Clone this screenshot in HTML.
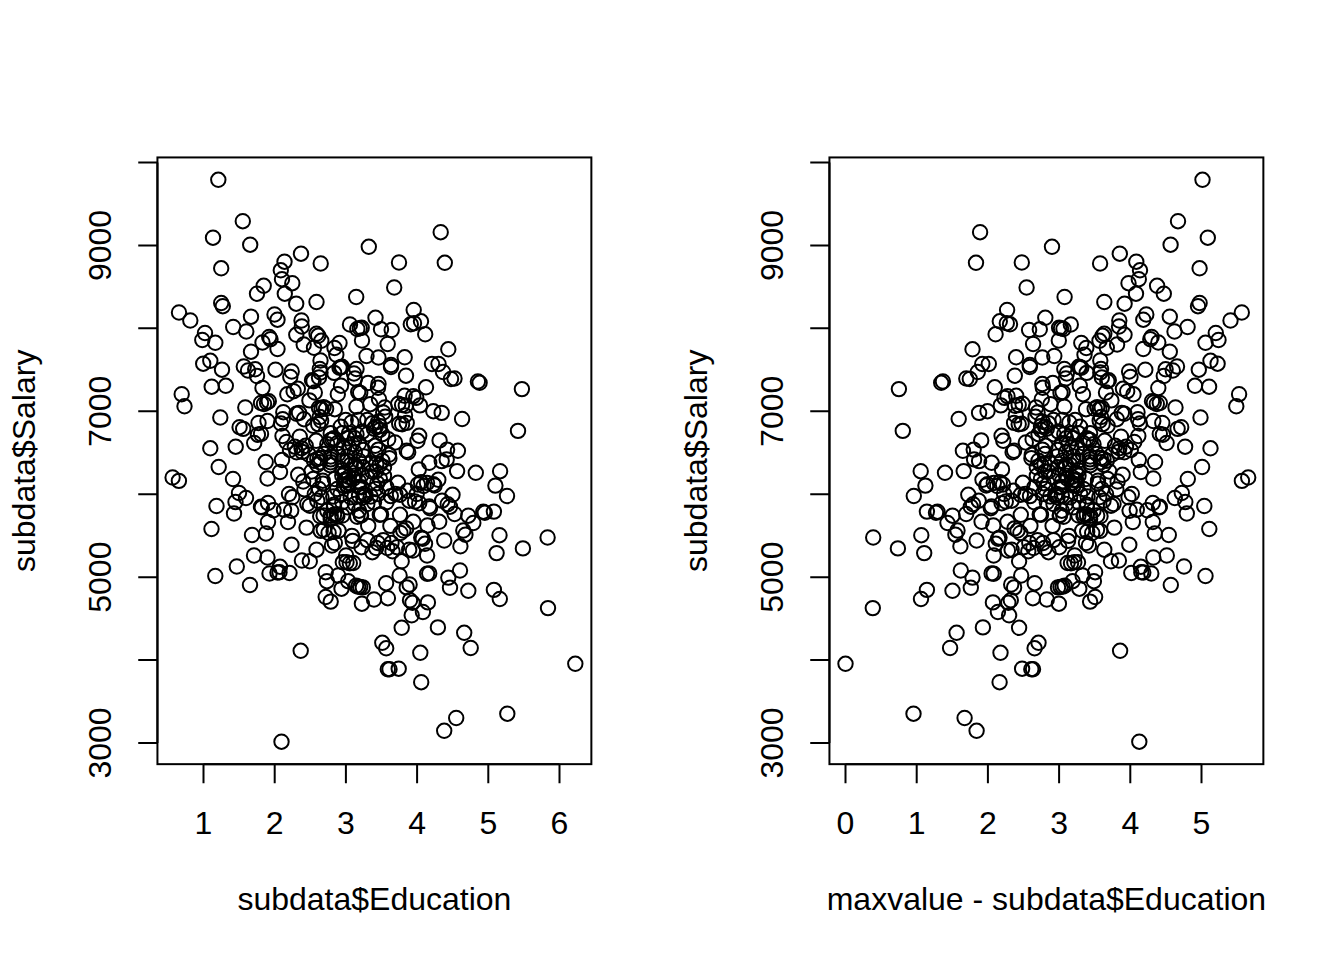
<!DOCTYPE html>
<html><head><meta charset="utf-8"><title>plot</title>
<style>
html,body{margin:0;padding:0;background:#fff;}
svg{display:block;}
text{font-family:"Liberation Sans",sans-serif;font-size:32px;fill:#000;}
</style></head><body>
<svg width="1344" height="960" viewBox="0 0 1344 960">
<rect width="1344" height="960" fill="#fff"/>
<rect x="157.44" y="157.44" width="433.92" height="606.72" fill="none" stroke="#000" stroke-width="2"/>
<path d="M203.50 764.16H559.50M203.50 764.16v19.2M274.70 764.16v19.2M345.90 764.16v19.2M417.10 764.16v19.2M488.30 764.16v19.2M559.50 764.16v19.2" stroke="#000" stroke-width="2" fill="none"/>
<text x="203.50" y="833.7" text-anchor="middle">1</text>
<text x="274.70" y="833.7" text-anchor="middle">2</text>
<text x="345.90" y="833.7" text-anchor="middle">3</text>
<text x="417.10" y="833.7" text-anchor="middle">4</text>
<text x="488.30" y="833.7" text-anchor="middle">5</text>
<text x="559.50" y="833.7" text-anchor="middle">6</text>
<path d="M157.44 162.50V743.01M157.44 162.50h-19.2M157.44 245.43h-19.2M157.44 328.36h-19.2M157.44 411.29h-19.2M157.44 494.22h-19.2M157.44 577.15h-19.2M157.44 660.08h-19.2M157.44 743.01h-19.2" stroke="#000" stroke-width="2" fill="none"/>
<text transform="translate(111.44 245.43) rotate(-90)" text-anchor="middle">9000</text>
<text transform="translate(111.44 411.29) rotate(-90)" text-anchor="middle">7000</text>
<text transform="translate(111.44 577.15) rotate(-90)" text-anchor="middle">5000</text>
<text transform="translate(111.44 743.01) rotate(-90)" text-anchor="middle">3000</text>
<text x="374.40" y="910" text-anchor="middle">subdata$Education</text>
<text transform="translate(35.04 460.80) rotate(-90)" text-anchor="middle">subdata$Salary</text>
<g fill="none" stroke="#000" stroke-width="2"><circle cx="218.3" cy="179.8" r="7.2"/><circle cx="242.8" cy="221.2" r="7.2"/><circle cx="213.0" cy="237.7" r="7.2"/><circle cx="250.2" cy="244.7" r="7.2"/><circle cx="301.0" cy="253.7" r="7.2"/><circle cx="368.8" cy="246.8" r="7.2"/><circle cx="284.5" cy="261.7" r="7.2"/><circle cx="320.7" cy="263.5" r="7.2"/><circle cx="221.2" cy="268.3" r="7.2"/><circle cx="280.8" cy="270.3" r="7.2"/><circle cx="282.0" cy="279.2" r="7.2"/><circle cx="292.3" cy="283.2" r="7.2"/><circle cx="263.7" cy="285.8" r="7.2"/><circle cx="257.0" cy="293.7" r="7.2"/><circle cx="284.8" cy="293.7" r="7.2"/><circle cx="296.2" cy="303.7" r="7.2"/><circle cx="316.5" cy="302.0" r="7.2"/><circle cx="356.2" cy="297.0" r="7.2"/><circle cx="221.2" cy="303.0" r="7.2"/><circle cx="222.8" cy="306.2" r="7.2"/><circle cx="179.0" cy="312.5" r="7.2"/><circle cx="190.3" cy="320.5" r="7.2"/><circle cx="205.0" cy="333.0" r="7.2"/><circle cx="202.3" cy="340.0" r="7.2"/><circle cx="215.3" cy="342.8" r="7.2"/><circle cx="233.2" cy="327.0" r="7.2"/><circle cx="203.2" cy="363.7" r="7.2"/><circle cx="210.3" cy="360.8" r="7.2"/><circle cx="222.0" cy="369.7" r="7.2"/><circle cx="211.7" cy="386.7" r="7.2"/><circle cx="225.8" cy="385.8" r="7.2"/><circle cx="181.7" cy="394.2" r="7.2"/><circle cx="184.5" cy="406.3" r="7.2"/><circle cx="220.3" cy="417.5" r="7.2"/><circle cx="210.3" cy="448.3" r="7.2"/><circle cx="235.7" cy="446.7" r="7.2"/><circle cx="251.0" cy="316.7" r="7.2"/><circle cx="246.3" cy="331.5" r="7.2"/><circle cx="274.5" cy="314.5" r="7.2"/><circle cx="277.5" cy="319.7" r="7.2"/><circle cx="301.5" cy="320.5" r="7.2"/><circle cx="301.8" cy="326.5" r="7.2"/><circle cx="296.3" cy="334.8" r="7.2"/><circle cx="303.7" cy="344.5" r="7.2"/><circle cx="316.5" cy="333.8" r="7.2"/><circle cx="318.2" cy="335.8" r="7.2"/><circle cx="321.3" cy="340.8" r="7.2"/><circle cx="314.0" cy="347.8" r="7.2"/><circle cx="339.5" cy="343.0" r="7.2"/><circle cx="334.5" cy="348.0" r="7.2"/><circle cx="336.3" cy="354.8" r="7.2"/><circle cx="269.2" cy="337.0" r="7.2"/><circle cx="270.5" cy="339.2" r="7.2"/><circle cx="262.5" cy="342.5" r="7.2"/><circle cx="277.5" cy="349.0" r="7.2"/><circle cx="251.0" cy="351.7" r="7.2"/><circle cx="350.0" cy="324.5" r="7.2"/><circle cx="320.5" cy="360.5" r="7.2"/><circle cx="319.8" cy="369.0" r="7.2"/><circle cx="320.5" cy="372.5" r="7.2"/><circle cx="319.0" cy="377.5" r="7.2"/><circle cx="312.0" cy="380.3" r="7.2"/><circle cx="313.5" cy="381.2" r="7.2"/><circle cx="341.0" cy="367.3" r="7.2"/><circle cx="339.5" cy="367.8" r="7.2"/><circle cx="342.0" cy="366.8" r="7.2"/><circle cx="334.1" cy="372.9" r="7.2"/><circle cx="341.0" cy="385.7" r="7.2"/><circle cx="243.8" cy="366.5" r="7.2"/><circle cx="248.0" cy="370.5" r="7.2"/><circle cx="255.2" cy="369.3" r="7.2"/><circle cx="257.0" cy="376.0" r="7.2"/><circle cx="275.5" cy="369.7" r="7.2"/><circle cx="291.7" cy="371.5" r="7.2"/><circle cx="290.3" cy="377.0" r="7.2"/><circle cx="262.5" cy="388.0" r="7.2"/><circle cx="375.5" cy="317.8" r="7.2"/><circle cx="357.3" cy="329.0" r="7.2"/><circle cx="359.8" cy="328.3" r="7.2"/><circle cx="361.7" cy="327.8" r="7.2"/><circle cx="362.0" cy="340.5" r="7.2"/><circle cx="381.0" cy="329.3" r="7.2"/><circle cx="391.7" cy="330.0" r="7.2"/><circle cx="387.7" cy="344.0" r="7.2"/><circle cx="413.7" cy="310.0" r="7.2"/><circle cx="410.8" cy="324.3" r="7.2"/><circle cx="414.0" cy="323.2" r="7.2"/><circle cx="421.0" cy="321.3" r="7.2"/><circle cx="425.2" cy="334.3" r="7.2"/><circle cx="448.3" cy="349.3" r="7.2"/><circle cx="366.5" cy="356.0" r="7.2"/><circle cx="378.5" cy="357.5" r="7.2"/><circle cx="404.7" cy="357.3" r="7.2"/><circle cx="391.0" cy="365.0" r="7.2"/><circle cx="391.0" cy="367.0" r="7.2"/><circle cx="406.0" cy="375.7" r="7.2"/><circle cx="432.0" cy="364.0" r="7.2"/><circle cx="438.5" cy="364.0" r="7.2"/><circle cx="443.0" cy="372.0" r="7.2"/><circle cx="451.0" cy="379.0" r="7.2"/><circle cx="454.5" cy="378.5" r="7.2"/><circle cx="426.0" cy="387.3" r="7.2"/><circle cx="356.5" cy="369.0" r="7.2"/><circle cx="354.0" cy="373.5" r="7.2"/><circle cx="355.0" cy="378.5" r="7.2"/><circle cx="368.0" cy="383.0" r="7.2"/><circle cx="378.5" cy="384.0" r="7.2"/><circle cx="378.0" cy="387.8" r="7.2"/><circle cx="245.3" cy="407.5" r="7.2"/><circle cx="261.0" cy="403.0" r="7.2"/><circle cx="264.0" cy="404.0" r="7.2"/><circle cx="267.0" cy="402.5" r="7.2"/><circle cx="268.8" cy="401.2" r="7.2"/><circle cx="287.3" cy="394.3" r="7.2"/><circle cx="283.3" cy="412.2" r="7.2"/><circle cx="282.7" cy="419.2" r="7.2"/><circle cx="281.0" cy="423.5" r="7.2"/><circle cx="267.5" cy="421.0" r="7.2"/><circle cx="258.5" cy="423.0" r="7.2"/><circle cx="239.6" cy="427.2" r="7.2"/><circle cx="243.2" cy="428.9" r="7.2"/><circle cx="257.9" cy="434.7" r="7.2"/><circle cx="261.0" cy="434.0" r="7.2"/><circle cx="254.2" cy="443.0" r="7.2"/><circle cx="282.5" cy="436.0" r="7.2"/><circle cx="286.5" cy="442.0" r="7.2"/><circle cx="265.7" cy="462.0" r="7.2"/><circle cx="282.0" cy="460.0" r="7.2"/><circle cx="290.0" cy="450.0" r="7.2"/><circle cx="293.6" cy="391.2" r="7.2"/><circle cx="297.8" cy="388.8" r="7.2"/><circle cx="314.8" cy="392.5" r="7.2"/><circle cx="309.4" cy="400.4" r="7.2"/><circle cx="337.8" cy="394.2" r="7.2"/><circle cx="319.0" cy="407.9" r="7.2"/><circle cx="321.5" cy="409.2" r="7.2"/><circle cx="323.6" cy="407.1" r="7.2"/><circle cx="326.1" cy="408.8" r="7.2"/><circle cx="334.8" cy="409.2" r="7.2"/><circle cx="356.5" cy="406.7" r="7.2"/><circle cx="358.2" cy="392.1" r="7.2"/><circle cx="360.2" cy="392.9" r="7.2"/><circle cx="370.2" cy="404.2" r="7.2"/><circle cx="379.0" cy="399.2" r="7.2"/><circle cx="296.5" cy="413.8" r="7.2"/><circle cx="299.0" cy="412.9" r="7.2"/><circle cx="304.0" cy="419.2" r="7.2"/><circle cx="321.1" cy="420.8" r="7.2"/><circle cx="318.2" cy="424.2" r="7.2"/><circle cx="313.2" cy="425.8" r="7.2"/><circle cx="345.7" cy="420.0" r="7.2"/><circle cx="351.5" cy="422.5" r="7.2"/><circle cx="340.7" cy="426.7" r="7.2"/><circle cx="358.2" cy="420.0" r="7.2"/><circle cx="367.3" cy="420.0" r="7.2"/><circle cx="372.3" cy="423.3" r="7.2"/><circle cx="375.7" cy="426.7" r="7.2"/><circle cx="378.2" cy="421.7" r="7.2"/><circle cx="384.8" cy="407.5" r="7.2"/><circle cx="383.2" cy="412.5" r="7.2"/><circle cx="385.2" cy="416.7" r="7.2"/><circle cx="299.8" cy="436.7" r="7.2"/><circle cx="316.1" cy="440.8" r="7.2"/><circle cx="330.7" cy="433.3" r="7.2"/><circle cx="334.0" cy="438.3" r="7.2"/><circle cx="327.3" cy="444.2" r="7.2"/><circle cx="342.3" cy="433.3" r="7.2"/><circle cx="347.3" cy="438.3" r="7.2"/><circle cx="352.3" cy="444.2" r="7.2"/><circle cx="356.5" cy="434.2" r="7.2"/><circle cx="362.3" cy="431.7" r="7.2"/><circle cx="367.3" cy="434.2" r="7.2"/><circle cx="375.2" cy="445.8" r="7.2"/><circle cx="382.3" cy="434.2" r="7.2"/><circle cx="388.2" cy="439.2" r="7.2"/><circle cx="294.8" cy="446.7" r="7.2"/><circle cx="301.5" cy="448.3" r="7.2"/><circle cx="404.6" cy="395.8" r="7.2"/><circle cx="413.3" cy="396.2" r="7.2"/><circle cx="416.2" cy="397.9" r="7.2"/><circle cx="420.0" cy="405.4" r="7.2"/><circle cx="398.3" cy="403.8" r="7.2"/><circle cx="402.1" cy="405.0" r="7.2"/><circle cx="405.8" cy="405.8" r="7.2"/><circle cx="433.3" cy="411.2" r="7.2"/><circle cx="441.7" cy="412.9" r="7.2"/><circle cx="462.1" cy="419.0" r="7.2"/><circle cx="399.2" cy="423.8" r="7.2"/><circle cx="402.1" cy="424.2" r="7.2"/><circle cx="406.7" cy="422.9" r="7.2"/><circle cx="405.0" cy="415.4" r="7.2"/><circle cx="419.2" cy="435.8" r="7.2"/><circle cx="417.5" cy="440.8" r="7.2"/><circle cx="439.6" cy="440.4" r="7.2"/><circle cx="447.1" cy="449.6" r="7.2"/><circle cx="457.9" cy="450.8" r="7.2"/><circle cx="395.0" cy="442.5" r="7.2"/><circle cx="406.7" cy="450.8" r="7.2"/><circle cx="296.5" cy="452.3" r="7.2"/><circle cx="302.3" cy="451.9" r="7.2"/><circle cx="309.0" cy="454.8" r="7.2"/><circle cx="314.0" cy="460.7" r="7.2"/><circle cx="317.3" cy="459.0" r="7.2"/><circle cx="319.8" cy="462.3" r="7.2"/><circle cx="317.3" cy="464.8" r="7.2"/><circle cx="324.0" cy="454.0" r="7.2"/><circle cx="330.7" cy="456.5" r="7.2"/><circle cx="330.7" cy="459.4" r="7.2"/><circle cx="330.7" cy="462.3" r="7.2"/><circle cx="330.2" cy="465.2" r="7.2"/><circle cx="338.2" cy="454.0" r="7.2"/><circle cx="342.3" cy="460.7" r="7.2"/><circle cx="347.3" cy="456.5" r="7.2"/><circle cx="350.7" cy="464.8" r="7.2"/><circle cx="354.8" cy="452.3" r="7.2"/><circle cx="359.0" cy="460.7" r="7.2"/><circle cx="364.0" cy="456.5" r="7.2"/><circle cx="370.7" cy="463.2" r="7.2"/><circle cx="375.7" cy="454.0" r="7.2"/><circle cx="382.3" cy="460.7" r="7.2"/><circle cx="389.0" cy="454.8" r="7.2"/><circle cx="389.4" cy="458.2" r="7.2"/><circle cx="384.0" cy="467.3" r="7.2"/><circle cx="298.2" cy="474.8" r="7.2"/><circle cx="303.2" cy="481.5" r="7.2"/><circle cx="304.4" cy="489.4" r="7.2"/><circle cx="311.5" cy="471.5" r="7.2"/><circle cx="313.2" cy="479.0" r="7.2"/><circle cx="322.8" cy="480.7" r="7.2"/><circle cx="323.0" cy="483.6" r="7.2"/><circle cx="319.0" cy="489.0" r="7.2"/><circle cx="334.8" cy="479.0" r="7.2"/><circle cx="342.3" cy="475.7" r="7.2"/><circle cx="345.7" cy="480.7" r="7.2"/><circle cx="349.0" cy="483.2" r="7.2"/><circle cx="344.0" cy="485.7" r="7.2"/><circle cx="337.3" cy="489.0" r="7.2"/><circle cx="354.8" cy="475.7" r="7.2"/><circle cx="359.0" cy="481.5" r="7.2"/><circle cx="361.5" cy="487.3" r="7.2"/><circle cx="367.3" cy="477.3" r="7.2"/><circle cx="372.3" cy="471.5" r="7.2"/><circle cx="377.3" cy="483.2" r="7.2"/><circle cx="379.8" cy="479.0" r="7.2"/><circle cx="375.7" cy="489.0" r="7.2"/><circle cx="384.0" cy="475.7" r="7.2"/><circle cx="386.5" cy="487.3" r="7.2"/><circle cx="307.3" cy="504.0" r="7.2"/><circle cx="309.8" cy="505.7" r="7.2"/><circle cx="314.8" cy="494.0" r="7.2"/><circle cx="317.3" cy="500.7" r="7.2"/><circle cx="321.5" cy="497.3" r="7.2"/><circle cx="333.2" cy="496.5" r="7.2"/><circle cx="334.0" cy="504.8" r="7.2"/><circle cx="334.0" cy="506.5" r="7.2"/><circle cx="327.3" cy="510.7" r="7.2"/><circle cx="340.7" cy="494.0" r="7.2"/><circle cx="342.3" cy="502.3" r="7.2"/><circle cx="347.3" cy="507.3" r="7.2"/><circle cx="350.7" cy="497.3" r="7.2"/><circle cx="354.8" cy="504.0" r="7.2"/><circle cx="359.0" cy="510.7" r="7.2"/><circle cx="360.7" cy="514.8" r="7.2"/><circle cx="364.0" cy="494.0" r="7.2"/><circle cx="370.7" cy="496.5" r="7.2"/><circle cx="367.3" cy="504.0" r="7.2"/><circle cx="374.0" cy="502.3" r="7.2"/><circle cx="379.8" cy="514.8" r="7.2"/><circle cx="381.1" cy="514.4" r="7.2"/><circle cx="378.2" cy="494.0" r="7.2"/><circle cx="386.5" cy="502.3" r="7.2"/><circle cx="446.7" cy="459.4" r="7.2"/><circle cx="441.7" cy="461.1" r="7.2"/><circle cx="429.2" cy="462.8" r="7.2"/><circle cx="418.8" cy="469.4" r="7.2"/><circle cx="457.1" cy="471.1" r="7.2"/><circle cx="475.8" cy="472.8" r="7.2"/><circle cx="438.3" cy="479.8" r="7.2"/><circle cx="417.8" cy="484.5" r="7.2"/><circle cx="421.0" cy="482.3" r="7.2"/><circle cx="423.6" cy="486.0" r="7.2"/><circle cx="427.0" cy="483.0" r="7.2"/><circle cx="433.3" cy="484.2" r="7.2"/><circle cx="434.6" cy="485.5" r="7.2"/><circle cx="397.9" cy="482.8" r="7.2"/><circle cx="407.5" cy="490.7" r="7.2"/><circle cx="452.5" cy="494.8" r="7.2"/><circle cx="442.1" cy="500.7" r="7.2"/><circle cx="450.0" cy="506.7" r="7.2"/><circle cx="447.7" cy="504.2" r="7.2"/><circle cx="454.6" cy="514.0" r="7.2"/><circle cx="429.2" cy="506.5" r="7.2"/><circle cx="430.0" cy="508.2" r="7.2"/><circle cx="409.2" cy="500.7" r="7.2"/><circle cx="415.0" cy="501.5" r="7.2"/><circle cx="419.2" cy="503.2" r="7.2"/><circle cx="416.7" cy="494.0" r="7.2"/><circle cx="390.8" cy="496.1" r="7.2"/><circle cx="395.4" cy="494.0" r="7.2"/><circle cx="400.0" cy="494.8" r="7.2"/><circle cx="400.0" cy="514.8" r="7.2"/><circle cx="468.3" cy="515.7" r="7.2"/><circle cx="483.3" cy="511.7" r="7.2"/><circle cx="408.2" cy="452.2" r="7.2"/><circle cx="306.5" cy="527.6" r="7.2"/><circle cx="291.5" cy="544.7" r="7.2"/><circle cx="316.5" cy="549.7" r="7.2"/><circle cx="301.9" cy="560.5" r="7.2"/><circle cx="309.8" cy="561.3" r="7.2"/><circle cx="325.7" cy="572.2" r="7.2"/><circle cx="338.2" cy="575.5" r="7.2"/><circle cx="346.1" cy="555.5" r="7.2"/><circle cx="342.8" cy="562.3" r="7.2"/><circle cx="346.5" cy="562.2" r="7.2"/><circle cx="349.8" cy="563.2" r="7.2"/><circle cx="353.2" cy="563.0" r="7.2"/><circle cx="351.9" cy="535.9" r="7.2"/><circle cx="352.8" cy="540.9" r="7.2"/><circle cx="361.5" cy="547.2" r="7.2"/><circle cx="368.2" cy="525.9" r="7.2"/><circle cx="367.3" cy="540.1" r="7.2"/><circle cx="372.3" cy="552.2" r="7.2"/><circle cx="376.1" cy="548.0" r="7.2"/><circle cx="377.8" cy="543.0" r="7.2"/><circle cx="383.2" cy="540.1" r="7.2"/><circle cx="387.3" cy="548.0" r="7.2"/><circle cx="391.5" cy="543.0" r="7.2"/><circle cx="320.2" cy="516.3" r="7.2"/><circle cx="323.6" cy="515.5" r="7.2"/><circle cx="330.7" cy="515.9" r="7.2"/><circle cx="337.3" cy="516.3" r="7.2"/><circle cx="342.3" cy="515.5" r="7.2"/><circle cx="357.3" cy="516.8" r="7.2"/><circle cx="361.1" cy="515.5" r="7.2"/><circle cx="320.7" cy="530.9" r="7.2"/><circle cx="323.8" cy="529.8" r="7.2"/><circle cx="328.6" cy="533.0" r="7.2"/><circle cx="333.6" cy="531.8" r="7.2"/><circle cx="338.6" cy="530.7" r="7.2"/><circle cx="331.9" cy="545.5" r="7.2"/><circle cx="334.8" cy="543.0" r="7.2"/><circle cx="413.3" cy="521.8" r="7.2"/><circle cx="390.4" cy="525.9" r="7.2"/><circle cx="427.5" cy="525.5" r="7.2"/><circle cx="439.2" cy="521.8" r="7.2"/><circle cx="473.3" cy="523.0" r="7.2"/><circle cx="463.3" cy="530.5" r="7.2"/><circle cx="465.4" cy="534.7" r="7.2"/><circle cx="460.4" cy="546.3" r="7.2"/><circle cx="444.2" cy="540.5" r="7.2"/><circle cx="400.4" cy="533.0" r="7.2"/><circle cx="403.3" cy="530.5" r="7.2"/><circle cx="406.2" cy="528.4" r="7.2"/><circle cx="421.2" cy="537.6" r="7.2"/><circle cx="422.7" cy="538.7" r="7.2"/><circle cx="425.0" cy="543.8" r="7.2"/><circle cx="427.1" cy="555.5" r="7.2"/><circle cx="412.9" cy="550.5" r="7.2"/><circle cx="409.2" cy="549.7" r="7.2"/><circle cx="397.1" cy="547.2" r="7.2"/><circle cx="392.5" cy="551.3" r="7.2"/><circle cx="401.7" cy="561.3" r="7.2"/><circle cx="399.6" cy="575.5" r="7.2"/><circle cx="427.1" cy="573.8" r="7.2"/><circle cx="429.2" cy="573.4" r="7.2"/><circle cx="460.0" cy="570.5" r="7.2"/><circle cx="448.3" cy="577.6" r="7.2"/><circle cx="326.9" cy="581.2" r="7.2"/><circle cx="341.5" cy="588.7" r="7.2"/><circle cx="348.2" cy="581.2" r="7.2"/><circle cx="356.1" cy="585.8" r="7.2"/><circle cx="358.2" cy="586.6" r="7.2"/><circle cx="360.2" cy="587.0" r="7.2"/><circle cx="362.8" cy="587.4" r="7.2"/><circle cx="325.7" cy="597.0" r="7.2"/><circle cx="330.7" cy="601.6" r="7.2"/><circle cx="361.9" cy="603.7" r="7.2"/><circle cx="374.0" cy="599.5" r="7.2"/><circle cx="386.1" cy="583.2" r="7.2"/><circle cx="382.3" cy="642.8" r="7.2"/><circle cx="409.6" cy="584.5" r="7.2"/><circle cx="406.7" cy="587.4" r="7.2"/><circle cx="387.9" cy="598.2" r="7.2"/><circle cx="410.0" cy="600.3" r="7.2"/><circle cx="412.5" cy="602.8" r="7.2"/><circle cx="427.9" cy="602.4" r="7.2"/><circle cx="422.9" cy="612.0" r="7.2"/><circle cx="411.7" cy="615.3" r="7.2"/><circle cx="450.0" cy="587.8" r="7.2"/><circle cx="468.3" cy="590.8" r="7.2"/><circle cx="401.7" cy="627.8" r="7.2"/><circle cx="437.9" cy="627.4" r="7.2"/><circle cx="464.2" cy="632.8" r="7.2"/><circle cx="218.7" cy="467.0" r="7.2"/><circle cx="233.0" cy="479.0" r="7.2"/><circle cx="216.5" cy="506.0" r="7.2"/><circle cx="211.5" cy="529.0" r="7.2"/><circle cx="239.0" cy="493.0" r="7.2"/><circle cx="246.0" cy="498.0" r="7.2"/><circle cx="235.5" cy="502.0" r="7.2"/><circle cx="234.0" cy="513.5" r="7.2"/><circle cx="267.5" cy="478.5" r="7.2"/><circle cx="280.0" cy="472.0" r="7.2"/><circle cx="261.0" cy="506.8" r="7.2"/><circle cx="261.8" cy="507.4" r="7.2"/><circle cx="268.0" cy="503.0" r="7.2"/><circle cx="273.5" cy="510.3" r="7.2"/><circle cx="284.0" cy="509.7" r="7.2"/><circle cx="291.2" cy="510.7" r="7.2"/><circle cx="268.0" cy="522.0" r="7.2"/><circle cx="288.0" cy="522.0" r="7.2"/><circle cx="266.0" cy="533.5" r="7.2"/><circle cx="252.0" cy="535.0" r="7.2"/><circle cx="289.0" cy="494.0" r="7.2"/><circle cx="292.3" cy="497.3" r="7.2"/><circle cx="254.0" cy="555.5" r="7.2"/><circle cx="267.5" cy="557.5" r="7.2"/><circle cx="236.8" cy="566.5" r="7.2"/><circle cx="215.3" cy="576.0" r="7.2"/><circle cx="250.0" cy="585.0" r="7.2"/><circle cx="269.5" cy="573.5" r="7.2"/><circle cx="280.0" cy="566.8" r="7.2"/><circle cx="277.5" cy="572.5" r="7.2"/><circle cx="279.5" cy="572.2" r="7.2"/><circle cx="289.5" cy="573.0" r="7.2"/><circle cx="440.7" cy="232.2" r="7.2"/><circle cx="399.0" cy="262.5" r="7.2"/><circle cx="444.8" cy="262.8" r="7.2"/><circle cx="394.2" cy="287.5" r="7.2"/><circle cx="477.9" cy="381.5" r="7.2"/><circle cx="479.6" cy="382.8" r="7.2"/><circle cx="521.9" cy="389.1" r="7.2"/><circle cx="518.0" cy="430.9" r="7.2"/><circle cx="500.1" cy="471.2" r="7.2"/><circle cx="495.4" cy="485.6" r="7.2"/><circle cx="507.0" cy="496.0" r="7.2"/><circle cx="493.9" cy="511.6" r="7.2"/><circle cx="484.8" cy="512.8" r="7.2"/><circle cx="499.5" cy="535.2" r="7.2"/><circle cx="547.6" cy="537.5" r="7.2"/><circle cx="522.9" cy="548.4" r="7.2"/><circle cx="496.6" cy="553.1" r="7.2"/><circle cx="493.9" cy="589.9" r="7.2"/><circle cx="499.8" cy="599.0" r="7.2"/><circle cx="548.0" cy="608.1" r="7.2"/><circle cx="470.7" cy="648.0" r="7.2"/><circle cx="386.2" cy="648.3" r="7.2"/><circle cx="420.3" cy="652.8" r="7.2"/><circle cx="387.8" cy="669.2" r="7.2"/><circle cx="389.5" cy="669.2" r="7.2"/><circle cx="398.7" cy="668.7" r="7.2"/><circle cx="421.2" cy="682.2" r="7.2"/><circle cx="575.3" cy="663.8" r="7.2"/><circle cx="456.2" cy="718.0" r="7.2"/><circle cx="444.2" cy="730.8" r="7.2"/><circle cx="507.3" cy="713.7" r="7.2"/><circle cx="300.7" cy="650.8" r="7.2"/><circle cx="281.5" cy="741.7" r="7.2"/><circle cx="172.6" cy="477.5" r="7.2"/><circle cx="178.9" cy="480.9" r="7.2"/><circle cx="330.7" cy="440.0" r="7.2"/><circle cx="337.3" cy="443.3" r="7.2"/><circle cx="349.0" cy="433.3" r="7.2"/><circle cx="354.8" cy="438.3" r="7.2"/><circle cx="359.0" cy="443.3" r="7.2"/><circle cx="363.2" cy="450.0" r="7.2"/><circle cx="344.0" cy="448.3" r="7.2"/><circle cx="379.8" cy="430.0" r="7.2"/><circle cx="305.7" cy="445.8" r="7.2"/><circle cx="347.3" cy="460.7" r="7.2"/><circle cx="354.8" cy="464.8" r="7.2"/><circle cx="363.2" cy="467.3" r="7.2"/><circle cx="344.8" cy="479.8" r="7.2"/><circle cx="347.3" cy="485.7" r="7.2"/><circle cx="359.0" cy="495.7" r="7.2"/><circle cx="363.2" cy="497.3" r="7.2"/><circle cx="375.7" cy="471.5" r="7.2"/><circle cx="379.8" cy="464.8" r="7.2"/><circle cx="334.0" cy="514.8" r="7.2"/><circle cx="330.7" cy="519.0" r="7.2"/><circle cx="320.0" cy="458.0" r="7.2"/><circle cx="332.5" cy="439.2" r="7.2"/><circle cx="349.2" cy="447.5" r="7.2"/><circle cx="378.3" cy="449.6" r="7.2"/><circle cx="345.0" cy="472.5" r="7.2"/><circle cx="353.3" cy="478.8" r="7.2"/><circle cx="376.2" cy="464.2" r="7.2"/><circle cx="365.8" cy="495.4" r="7.2"/><circle cx="336.7" cy="514.2" r="7.2"/><circle cx="319.8" cy="417.0" r="7.2"/><circle cx="374.0" cy="428.7" r="7.2"/><circle cx="379.8" cy="426.2" r="7.2"/><circle cx="342.3" cy="470.3" r="7.2"/><circle cx="349.0" cy="477.0" r="7.2"/><circle cx="355.7" cy="468.7" r="7.2"/><circle cx="361.5" cy="475.3" r="7.2"/><circle cx="347.3" cy="485.3" r="7.2"/><circle cx="359.0" cy="487.0" r="7.2"/></g>
<rect x="829.44" y="157.44" width="433.92" height="606.72" fill="none" stroke="#000" stroke-width="2"/>
<path d="M845.50 764.16H1201.50M845.50 764.16v19.2M916.70 764.16v19.2M987.90 764.16v19.2M1059.10 764.16v19.2M1130.30 764.16v19.2M1201.50 764.16v19.2" stroke="#000" stroke-width="2" fill="none"/>
<text x="845.50" y="833.7" text-anchor="middle">0</text>
<text x="916.70" y="833.7" text-anchor="middle">1</text>
<text x="987.90" y="833.7" text-anchor="middle">2</text>
<text x="1059.10" y="833.7" text-anchor="middle">3</text>
<text x="1130.30" y="833.7" text-anchor="middle">4</text>
<text x="1201.50" y="833.7" text-anchor="middle">5</text>
<path d="M829.44 162.50V743.01M829.44 162.50h-19.2M829.44 245.43h-19.2M829.44 328.36h-19.2M829.44 411.29h-19.2M829.44 494.22h-19.2M829.44 577.15h-19.2M829.44 660.08h-19.2M829.44 743.01h-19.2" stroke="#000" stroke-width="2" fill="none"/>
<text transform="translate(783.44 245.43) rotate(-90)" text-anchor="middle">9000</text>
<text transform="translate(783.44 411.29) rotate(-90)" text-anchor="middle">7000</text>
<text transform="translate(783.44 577.15) rotate(-90)" text-anchor="middle">5000</text>
<text transform="translate(783.44 743.01) rotate(-90)" text-anchor="middle">3000</text>
<text x="1046.40" y="910" text-anchor="middle">maxvalue - subdata$Education</text>
<text transform="translate(707.04 460.80) rotate(-90)" text-anchor="middle">subdata$Salary</text>
<g fill="none" stroke="#000" stroke-width="2"><circle cx="1202.5" cy="179.8" r="7.2"/><circle cx="1178.0" cy="221.2" r="7.2"/><circle cx="1207.8" cy="237.7" r="7.2"/><circle cx="1170.6" cy="244.7" r="7.2"/><circle cx="1119.8" cy="253.7" r="7.2"/><circle cx="1052.0" cy="246.8" r="7.2"/><circle cx="1136.3" cy="261.7" r="7.2"/><circle cx="1100.1" cy="263.5" r="7.2"/><circle cx="1199.6" cy="268.3" r="7.2"/><circle cx="1140.0" cy="270.3" r="7.2"/><circle cx="1138.8" cy="279.2" r="7.2"/><circle cx="1128.5" cy="283.2" r="7.2"/><circle cx="1157.1" cy="285.8" r="7.2"/><circle cx="1163.8" cy="293.7" r="7.2"/><circle cx="1136.0" cy="293.7" r="7.2"/><circle cx="1124.6" cy="303.7" r="7.2"/><circle cx="1104.3" cy="302.0" r="7.2"/><circle cx="1064.6" cy="297.0" r="7.2"/><circle cx="1199.6" cy="303.0" r="7.2"/><circle cx="1198.0" cy="306.2" r="7.2"/><circle cx="1241.8" cy="312.5" r="7.2"/><circle cx="1230.5" cy="320.5" r="7.2"/><circle cx="1215.8" cy="333.0" r="7.2"/><circle cx="1218.5" cy="340.0" r="7.2"/><circle cx="1205.5" cy="342.8" r="7.2"/><circle cx="1187.6" cy="327.0" r="7.2"/><circle cx="1217.6" cy="363.7" r="7.2"/><circle cx="1210.5" cy="360.8" r="7.2"/><circle cx="1198.8" cy="369.7" r="7.2"/><circle cx="1209.1" cy="386.7" r="7.2"/><circle cx="1195.0" cy="385.8" r="7.2"/><circle cx="1239.1" cy="394.2" r="7.2"/><circle cx="1236.3" cy="406.3" r="7.2"/><circle cx="1200.5" cy="417.5" r="7.2"/><circle cx="1210.5" cy="448.3" r="7.2"/><circle cx="1185.1" cy="446.7" r="7.2"/><circle cx="1169.8" cy="316.7" r="7.2"/><circle cx="1174.5" cy="331.5" r="7.2"/><circle cx="1146.3" cy="314.5" r="7.2"/><circle cx="1143.3" cy="319.7" r="7.2"/><circle cx="1119.3" cy="320.5" r="7.2"/><circle cx="1119.0" cy="326.5" r="7.2"/><circle cx="1124.5" cy="334.8" r="7.2"/><circle cx="1117.1" cy="344.5" r="7.2"/><circle cx="1104.3" cy="333.8" r="7.2"/><circle cx="1102.6" cy="335.8" r="7.2"/><circle cx="1099.5" cy="340.8" r="7.2"/><circle cx="1106.8" cy="347.8" r="7.2"/><circle cx="1081.3" cy="343.0" r="7.2"/><circle cx="1086.3" cy="348.0" r="7.2"/><circle cx="1084.5" cy="354.8" r="7.2"/><circle cx="1151.6" cy="337.0" r="7.2"/><circle cx="1150.3" cy="339.2" r="7.2"/><circle cx="1158.3" cy="342.5" r="7.2"/><circle cx="1143.3" cy="349.0" r="7.2"/><circle cx="1169.8" cy="351.7" r="7.2"/><circle cx="1070.8" cy="324.5" r="7.2"/><circle cx="1100.3" cy="360.5" r="7.2"/><circle cx="1101.0" cy="369.0" r="7.2"/><circle cx="1100.3" cy="372.5" r="7.2"/><circle cx="1101.8" cy="377.5" r="7.2"/><circle cx="1108.8" cy="380.3" r="7.2"/><circle cx="1107.3" cy="381.2" r="7.2"/><circle cx="1079.8" cy="367.3" r="7.2"/><circle cx="1081.3" cy="367.8" r="7.2"/><circle cx="1078.8" cy="366.8" r="7.2"/><circle cx="1086.7" cy="372.9" r="7.2"/><circle cx="1079.8" cy="385.7" r="7.2"/><circle cx="1177.0" cy="366.5" r="7.2"/><circle cx="1172.8" cy="370.5" r="7.2"/><circle cx="1165.6" cy="369.3" r="7.2"/><circle cx="1163.8" cy="376.0" r="7.2"/><circle cx="1145.3" cy="369.7" r="7.2"/><circle cx="1129.1" cy="371.5" r="7.2"/><circle cx="1130.5" cy="377.0" r="7.2"/><circle cx="1158.3" cy="388.0" r="7.2"/><circle cx="1045.3" cy="317.8" r="7.2"/><circle cx="1063.5" cy="329.0" r="7.2"/><circle cx="1061.0" cy="328.3" r="7.2"/><circle cx="1059.1" cy="327.8" r="7.2"/><circle cx="1058.8" cy="340.5" r="7.2"/><circle cx="1039.8" cy="329.3" r="7.2"/><circle cx="1029.1" cy="330.0" r="7.2"/><circle cx="1033.1" cy="344.0" r="7.2"/><circle cx="1007.1" cy="310.0" r="7.2"/><circle cx="1010.0" cy="324.3" r="7.2"/><circle cx="1006.8" cy="323.2" r="7.2"/><circle cx="999.8" cy="321.3" r="7.2"/><circle cx="995.6" cy="334.3" r="7.2"/><circle cx="972.5" cy="349.3" r="7.2"/><circle cx="1054.3" cy="356.0" r="7.2"/><circle cx="1042.3" cy="357.5" r="7.2"/><circle cx="1016.1" cy="357.3" r="7.2"/><circle cx="1029.8" cy="365.0" r="7.2"/><circle cx="1029.8" cy="367.0" r="7.2"/><circle cx="1014.8" cy="375.7" r="7.2"/><circle cx="988.8" cy="364.0" r="7.2"/><circle cx="982.3" cy="364.0" r="7.2"/><circle cx="977.8" cy="372.0" r="7.2"/><circle cx="969.8" cy="379.0" r="7.2"/><circle cx="966.3" cy="378.5" r="7.2"/><circle cx="994.8" cy="387.3" r="7.2"/><circle cx="1064.3" cy="369.0" r="7.2"/><circle cx="1066.8" cy="373.5" r="7.2"/><circle cx="1065.8" cy="378.5" r="7.2"/><circle cx="1052.8" cy="383.0" r="7.2"/><circle cx="1042.3" cy="384.0" r="7.2"/><circle cx="1042.8" cy="387.8" r="7.2"/><circle cx="1175.5" cy="407.5" r="7.2"/><circle cx="1159.8" cy="403.0" r="7.2"/><circle cx="1156.8" cy="404.0" r="7.2"/><circle cx="1153.8" cy="402.5" r="7.2"/><circle cx="1152.0" cy="401.2" r="7.2"/><circle cx="1133.5" cy="394.3" r="7.2"/><circle cx="1137.5" cy="412.2" r="7.2"/><circle cx="1138.1" cy="419.2" r="7.2"/><circle cx="1139.8" cy="423.5" r="7.2"/><circle cx="1153.3" cy="421.0" r="7.2"/><circle cx="1162.3" cy="423.0" r="7.2"/><circle cx="1181.2" cy="427.2" r="7.2"/><circle cx="1177.6" cy="428.9" r="7.2"/><circle cx="1162.9" cy="434.7" r="7.2"/><circle cx="1159.8" cy="434.0" r="7.2"/><circle cx="1166.6" cy="443.0" r="7.2"/><circle cx="1138.3" cy="436.0" r="7.2"/><circle cx="1134.3" cy="442.0" r="7.2"/><circle cx="1155.1" cy="462.0" r="7.2"/><circle cx="1138.8" cy="460.0" r="7.2"/><circle cx="1130.8" cy="450.0" r="7.2"/><circle cx="1127.2" cy="391.2" r="7.2"/><circle cx="1123.0" cy="388.8" r="7.2"/><circle cx="1106.0" cy="392.5" r="7.2"/><circle cx="1111.4" cy="400.4" r="7.2"/><circle cx="1083.0" cy="394.2" r="7.2"/><circle cx="1101.8" cy="407.9" r="7.2"/><circle cx="1099.3" cy="409.2" r="7.2"/><circle cx="1097.2" cy="407.1" r="7.2"/><circle cx="1094.7" cy="408.8" r="7.2"/><circle cx="1086.0" cy="409.2" r="7.2"/><circle cx="1064.3" cy="406.7" r="7.2"/><circle cx="1062.6" cy="392.1" r="7.2"/><circle cx="1060.5" cy="392.9" r="7.2"/><circle cx="1050.5" cy="404.2" r="7.2"/><circle cx="1041.8" cy="399.2" r="7.2"/><circle cx="1124.3" cy="413.8" r="7.2"/><circle cx="1121.8" cy="412.9" r="7.2"/><circle cx="1116.8" cy="419.2" r="7.2"/><circle cx="1099.7" cy="420.8" r="7.2"/><circle cx="1102.6" cy="424.2" r="7.2"/><circle cx="1107.6" cy="425.8" r="7.2"/><circle cx="1075.1" cy="420.0" r="7.2"/><circle cx="1069.3" cy="422.5" r="7.2"/><circle cx="1080.1" cy="426.7" r="7.2"/><circle cx="1062.6" cy="420.0" r="7.2"/><circle cx="1053.5" cy="420.0" r="7.2"/><circle cx="1048.5" cy="423.3" r="7.2"/><circle cx="1045.1" cy="426.7" r="7.2"/><circle cx="1042.6" cy="421.7" r="7.2"/><circle cx="1036.0" cy="407.5" r="7.2"/><circle cx="1037.6" cy="412.5" r="7.2"/><circle cx="1035.5" cy="416.7" r="7.2"/><circle cx="1121.0" cy="436.7" r="7.2"/><circle cx="1104.7" cy="440.8" r="7.2"/><circle cx="1090.1" cy="433.3" r="7.2"/><circle cx="1086.8" cy="438.3" r="7.2"/><circle cx="1093.5" cy="444.2" r="7.2"/><circle cx="1078.5" cy="433.3" r="7.2"/><circle cx="1073.5" cy="438.3" r="7.2"/><circle cx="1068.5" cy="444.2" r="7.2"/><circle cx="1064.3" cy="434.2" r="7.2"/><circle cx="1058.5" cy="431.7" r="7.2"/><circle cx="1053.5" cy="434.2" r="7.2"/><circle cx="1045.5" cy="445.8" r="7.2"/><circle cx="1038.5" cy="434.2" r="7.2"/><circle cx="1032.6" cy="439.2" r="7.2"/><circle cx="1126.0" cy="446.7" r="7.2"/><circle cx="1119.3" cy="448.3" r="7.2"/><circle cx="1016.2" cy="395.8" r="7.2"/><circle cx="1007.5" cy="396.2" r="7.2"/><circle cx="1004.5" cy="397.9" r="7.2"/><circle cx="1000.8" cy="405.4" r="7.2"/><circle cx="1022.5" cy="403.8" r="7.2"/><circle cx="1018.7" cy="405.0" r="7.2"/><circle cx="1015.0" cy="405.8" r="7.2"/><circle cx="987.5" cy="411.2" r="7.2"/><circle cx="979.1" cy="412.9" r="7.2"/><circle cx="958.7" cy="419.0" r="7.2"/><circle cx="1021.6" cy="423.8" r="7.2"/><circle cx="1018.7" cy="424.2" r="7.2"/><circle cx="1014.1" cy="422.9" r="7.2"/><circle cx="1015.8" cy="415.4" r="7.2"/><circle cx="1001.6" cy="435.8" r="7.2"/><circle cx="1003.3" cy="440.8" r="7.2"/><circle cx="981.2" cy="440.4" r="7.2"/><circle cx="973.7" cy="449.6" r="7.2"/><circle cx="962.9" cy="450.8" r="7.2"/><circle cx="1025.8" cy="442.5" r="7.2"/><circle cx="1014.1" cy="450.8" r="7.2"/><circle cx="1124.3" cy="452.3" r="7.2"/><circle cx="1118.5" cy="451.9" r="7.2"/><circle cx="1111.8" cy="454.8" r="7.2"/><circle cx="1106.8" cy="460.7" r="7.2"/><circle cx="1103.5" cy="459.0" r="7.2"/><circle cx="1101.0" cy="462.3" r="7.2"/><circle cx="1103.5" cy="464.8" r="7.2"/><circle cx="1096.8" cy="454.0" r="7.2"/><circle cx="1090.1" cy="456.5" r="7.2"/><circle cx="1090.1" cy="459.4" r="7.2"/><circle cx="1090.1" cy="462.3" r="7.2"/><circle cx="1090.5" cy="465.2" r="7.2"/><circle cx="1082.6" cy="454.0" r="7.2"/><circle cx="1078.5" cy="460.7" r="7.2"/><circle cx="1073.5" cy="456.5" r="7.2"/><circle cx="1070.1" cy="464.8" r="7.2"/><circle cx="1066.0" cy="452.3" r="7.2"/><circle cx="1061.8" cy="460.7" r="7.2"/><circle cx="1056.8" cy="456.5" r="7.2"/><circle cx="1050.1" cy="463.2" r="7.2"/><circle cx="1045.1" cy="454.0" r="7.2"/><circle cx="1038.5" cy="460.7" r="7.2"/><circle cx="1031.8" cy="454.8" r="7.2"/><circle cx="1031.4" cy="458.2" r="7.2"/><circle cx="1036.8" cy="467.3" r="7.2"/><circle cx="1122.6" cy="474.8" r="7.2"/><circle cx="1117.6" cy="481.5" r="7.2"/><circle cx="1116.4" cy="489.4" r="7.2"/><circle cx="1109.3" cy="471.5" r="7.2"/><circle cx="1107.6" cy="479.0" r="7.2"/><circle cx="1098.0" cy="480.7" r="7.2"/><circle cx="1097.8" cy="483.6" r="7.2"/><circle cx="1101.8" cy="489.0" r="7.2"/><circle cx="1086.0" cy="479.0" r="7.2"/><circle cx="1078.5" cy="475.7" r="7.2"/><circle cx="1075.1" cy="480.7" r="7.2"/><circle cx="1071.8" cy="483.2" r="7.2"/><circle cx="1076.8" cy="485.7" r="7.2"/><circle cx="1083.5" cy="489.0" r="7.2"/><circle cx="1066.0" cy="475.7" r="7.2"/><circle cx="1061.8" cy="481.5" r="7.2"/><circle cx="1059.3" cy="487.3" r="7.2"/><circle cx="1053.5" cy="477.3" r="7.2"/><circle cx="1048.5" cy="471.5" r="7.2"/><circle cx="1043.5" cy="483.2" r="7.2"/><circle cx="1041.0" cy="479.0" r="7.2"/><circle cx="1045.1" cy="489.0" r="7.2"/><circle cx="1036.8" cy="475.7" r="7.2"/><circle cx="1034.3" cy="487.3" r="7.2"/><circle cx="1113.5" cy="504.0" r="7.2"/><circle cx="1111.0" cy="505.7" r="7.2"/><circle cx="1106.0" cy="494.0" r="7.2"/><circle cx="1103.5" cy="500.7" r="7.2"/><circle cx="1099.3" cy="497.3" r="7.2"/><circle cx="1087.6" cy="496.5" r="7.2"/><circle cx="1086.8" cy="504.8" r="7.2"/><circle cx="1086.8" cy="506.5" r="7.2"/><circle cx="1093.5" cy="510.7" r="7.2"/><circle cx="1080.1" cy="494.0" r="7.2"/><circle cx="1078.5" cy="502.3" r="7.2"/><circle cx="1073.5" cy="507.3" r="7.2"/><circle cx="1070.1" cy="497.3" r="7.2"/><circle cx="1066.0" cy="504.0" r="7.2"/><circle cx="1061.8" cy="510.7" r="7.2"/><circle cx="1060.1" cy="514.8" r="7.2"/><circle cx="1056.8" cy="494.0" r="7.2"/><circle cx="1050.1" cy="496.5" r="7.2"/><circle cx="1053.5" cy="504.0" r="7.2"/><circle cx="1046.8" cy="502.3" r="7.2"/><circle cx="1041.0" cy="514.8" r="7.2"/><circle cx="1039.7" cy="514.4" r="7.2"/><circle cx="1042.6" cy="494.0" r="7.2"/><circle cx="1034.3" cy="502.3" r="7.2"/><circle cx="974.1" cy="459.4" r="7.2"/><circle cx="979.1" cy="461.1" r="7.2"/><circle cx="991.6" cy="462.8" r="7.2"/><circle cx="1002.0" cy="469.4" r="7.2"/><circle cx="963.7" cy="471.1" r="7.2"/><circle cx="945.0" cy="472.8" r="7.2"/><circle cx="982.5" cy="479.8" r="7.2"/><circle cx="1003.0" cy="484.5" r="7.2"/><circle cx="999.8" cy="482.3" r="7.2"/><circle cx="997.2" cy="486.0" r="7.2"/><circle cx="993.8" cy="483.0" r="7.2"/><circle cx="987.5" cy="484.2" r="7.2"/><circle cx="986.2" cy="485.5" r="7.2"/><circle cx="1022.9" cy="482.8" r="7.2"/><circle cx="1013.3" cy="490.7" r="7.2"/><circle cx="968.3" cy="494.8" r="7.2"/><circle cx="978.7" cy="500.7" r="7.2"/><circle cx="970.8" cy="506.7" r="7.2"/><circle cx="973.1" cy="504.2" r="7.2"/><circle cx="966.2" cy="514.0" r="7.2"/><circle cx="991.6" cy="506.5" r="7.2"/><circle cx="990.8" cy="508.2" r="7.2"/><circle cx="1011.6" cy="500.7" r="7.2"/><circle cx="1005.8" cy="501.5" r="7.2"/><circle cx="1001.6" cy="503.2" r="7.2"/><circle cx="1004.1" cy="494.0" r="7.2"/><circle cx="1030.0" cy="496.1" r="7.2"/><circle cx="1025.4" cy="494.0" r="7.2"/><circle cx="1020.8" cy="494.8" r="7.2"/><circle cx="1020.8" cy="514.8" r="7.2"/><circle cx="952.5" cy="515.7" r="7.2"/><circle cx="937.5" cy="511.7" r="7.2"/><circle cx="1012.6" cy="452.2" r="7.2"/><circle cx="1114.3" cy="527.6" r="7.2"/><circle cx="1129.3" cy="544.7" r="7.2"/><circle cx="1104.3" cy="549.7" r="7.2"/><circle cx="1118.9" cy="560.5" r="7.2"/><circle cx="1111.0" cy="561.3" r="7.2"/><circle cx="1095.1" cy="572.2" r="7.2"/><circle cx="1082.6" cy="575.5" r="7.2"/><circle cx="1074.7" cy="555.5" r="7.2"/><circle cx="1078.0" cy="562.3" r="7.2"/><circle cx="1074.3" cy="562.2" r="7.2"/><circle cx="1071.0" cy="563.2" r="7.2"/><circle cx="1067.6" cy="563.0" r="7.2"/><circle cx="1068.9" cy="535.9" r="7.2"/><circle cx="1068.0" cy="540.9" r="7.2"/><circle cx="1059.3" cy="547.2" r="7.2"/><circle cx="1052.6" cy="525.9" r="7.2"/><circle cx="1053.5" cy="540.1" r="7.2"/><circle cx="1048.5" cy="552.2" r="7.2"/><circle cx="1044.7" cy="548.0" r="7.2"/><circle cx="1043.0" cy="543.0" r="7.2"/><circle cx="1037.6" cy="540.1" r="7.2"/><circle cx="1033.5" cy="548.0" r="7.2"/><circle cx="1029.3" cy="543.0" r="7.2"/><circle cx="1100.5" cy="516.3" r="7.2"/><circle cx="1097.2" cy="515.5" r="7.2"/><circle cx="1090.1" cy="515.9" r="7.2"/><circle cx="1083.5" cy="516.3" r="7.2"/><circle cx="1078.5" cy="515.5" r="7.2"/><circle cx="1063.5" cy="516.8" r="7.2"/><circle cx="1059.7" cy="515.5" r="7.2"/><circle cx="1100.1" cy="530.9" r="7.2"/><circle cx="1097.0" cy="529.8" r="7.2"/><circle cx="1092.2" cy="533.0" r="7.2"/><circle cx="1087.2" cy="531.8" r="7.2"/><circle cx="1082.2" cy="530.7" r="7.2"/><circle cx="1088.9" cy="545.5" r="7.2"/><circle cx="1086.0" cy="543.0" r="7.2"/><circle cx="1007.5" cy="521.8" r="7.2"/><circle cx="1030.4" cy="525.9" r="7.2"/><circle cx="993.3" cy="525.5" r="7.2"/><circle cx="981.6" cy="521.8" r="7.2"/><circle cx="947.5" cy="523.0" r="7.2"/><circle cx="957.5" cy="530.5" r="7.2"/><circle cx="955.4" cy="534.7" r="7.2"/><circle cx="960.4" cy="546.3" r="7.2"/><circle cx="976.6" cy="540.5" r="7.2"/><circle cx="1020.4" cy="533.0" r="7.2"/><circle cx="1017.5" cy="530.5" r="7.2"/><circle cx="1014.5" cy="528.4" r="7.2"/><circle cx="999.5" cy="537.6" r="7.2"/><circle cx="998.1" cy="538.7" r="7.2"/><circle cx="995.8" cy="543.8" r="7.2"/><circle cx="993.7" cy="555.5" r="7.2"/><circle cx="1007.9" cy="550.5" r="7.2"/><circle cx="1011.6" cy="549.7" r="7.2"/><circle cx="1023.7" cy="547.2" r="7.2"/><circle cx="1028.3" cy="551.3" r="7.2"/><circle cx="1019.1" cy="561.3" r="7.2"/><circle cx="1021.2" cy="575.5" r="7.2"/><circle cx="993.7" cy="573.8" r="7.2"/><circle cx="991.6" cy="573.4" r="7.2"/><circle cx="960.8" cy="570.5" r="7.2"/><circle cx="972.5" cy="577.6" r="7.2"/><circle cx="1093.9" cy="581.2" r="7.2"/><circle cx="1079.3" cy="588.7" r="7.2"/><circle cx="1072.6" cy="581.2" r="7.2"/><circle cx="1064.7" cy="585.8" r="7.2"/><circle cx="1062.6" cy="586.6" r="7.2"/><circle cx="1060.5" cy="587.0" r="7.2"/><circle cx="1058.0" cy="587.4" r="7.2"/><circle cx="1095.1" cy="597.0" r="7.2"/><circle cx="1090.1" cy="601.6" r="7.2"/><circle cx="1058.9" cy="603.7" r="7.2"/><circle cx="1046.8" cy="599.5" r="7.2"/><circle cx="1034.7" cy="583.2" r="7.2"/><circle cx="1038.5" cy="642.8" r="7.2"/><circle cx="1011.2" cy="584.5" r="7.2"/><circle cx="1014.1" cy="587.4" r="7.2"/><circle cx="1032.9" cy="598.2" r="7.2"/><circle cx="1010.8" cy="600.3" r="7.2"/><circle cx="1008.3" cy="602.8" r="7.2"/><circle cx="992.9" cy="602.4" r="7.2"/><circle cx="997.9" cy="612.0" r="7.2"/><circle cx="1009.1" cy="615.3" r="7.2"/><circle cx="970.8" cy="587.8" r="7.2"/><circle cx="952.5" cy="590.8" r="7.2"/><circle cx="1019.1" cy="627.8" r="7.2"/><circle cx="982.9" cy="627.4" r="7.2"/><circle cx="956.6" cy="632.8" r="7.2"/><circle cx="1202.1" cy="467.0" r="7.2"/><circle cx="1187.8" cy="479.0" r="7.2"/><circle cx="1204.3" cy="506.0" r="7.2"/><circle cx="1209.3" cy="529.0" r="7.2"/><circle cx="1181.8" cy="493.0" r="7.2"/><circle cx="1174.8" cy="498.0" r="7.2"/><circle cx="1185.3" cy="502.0" r="7.2"/><circle cx="1186.8" cy="513.5" r="7.2"/><circle cx="1153.3" cy="478.5" r="7.2"/><circle cx="1140.8" cy="472.0" r="7.2"/><circle cx="1159.8" cy="506.8" r="7.2"/><circle cx="1159.0" cy="507.4" r="7.2"/><circle cx="1152.8" cy="503.0" r="7.2"/><circle cx="1147.3" cy="510.3" r="7.2"/><circle cx="1136.8" cy="509.7" r="7.2"/><circle cx="1129.6" cy="510.7" r="7.2"/><circle cx="1152.8" cy="522.0" r="7.2"/><circle cx="1132.8" cy="522.0" r="7.2"/><circle cx="1154.8" cy="533.5" r="7.2"/><circle cx="1168.8" cy="535.0" r="7.2"/><circle cx="1131.8" cy="494.0" r="7.2"/><circle cx="1128.5" cy="497.3" r="7.2"/><circle cx="1166.8" cy="555.5" r="7.2"/><circle cx="1153.3" cy="557.5" r="7.2"/><circle cx="1184.0" cy="566.5" r="7.2"/><circle cx="1205.5" cy="576.0" r="7.2"/><circle cx="1170.8" cy="585.0" r="7.2"/><circle cx="1151.3" cy="573.5" r="7.2"/><circle cx="1140.8" cy="566.8" r="7.2"/><circle cx="1143.3" cy="572.5" r="7.2"/><circle cx="1141.3" cy="572.2" r="7.2"/><circle cx="1131.3" cy="573.0" r="7.2"/><circle cx="980.1" cy="232.2" r="7.2"/><circle cx="1021.8" cy="262.5" r="7.2"/><circle cx="976.0" cy="262.8" r="7.2"/><circle cx="1026.6" cy="287.5" r="7.2"/><circle cx="942.9" cy="381.5" r="7.2"/><circle cx="941.2" cy="382.8" r="7.2"/><circle cx="898.9" cy="389.1" r="7.2"/><circle cx="902.8" cy="430.9" r="7.2"/><circle cx="920.7" cy="471.2" r="7.2"/><circle cx="925.4" cy="485.6" r="7.2"/><circle cx="913.8" cy="496.0" r="7.2"/><circle cx="926.9" cy="511.6" r="7.2"/><circle cx="936.0" cy="512.8" r="7.2"/><circle cx="921.3" cy="535.2" r="7.2"/><circle cx="873.2" cy="537.5" r="7.2"/><circle cx="897.9" cy="548.4" r="7.2"/><circle cx="924.2" cy="553.1" r="7.2"/><circle cx="926.9" cy="589.9" r="7.2"/><circle cx="921.0" cy="599.0" r="7.2"/><circle cx="872.8" cy="608.1" r="7.2"/><circle cx="950.1" cy="648.0" r="7.2"/><circle cx="1034.6" cy="648.3" r="7.2"/><circle cx="1000.5" cy="652.8" r="7.2"/><circle cx="1033.0" cy="669.2" r="7.2"/><circle cx="1031.3" cy="669.2" r="7.2"/><circle cx="1022.1" cy="668.7" r="7.2"/><circle cx="999.6" cy="682.2" r="7.2"/><circle cx="845.5" cy="663.8" r="7.2"/><circle cx="964.6" cy="718.0" r="7.2"/><circle cx="976.6" cy="730.8" r="7.2"/><circle cx="913.5" cy="713.7" r="7.2"/><circle cx="1120.1" cy="650.8" r="7.2"/><circle cx="1139.3" cy="741.7" r="7.2"/><circle cx="1248.2" cy="477.5" r="7.2"/><circle cx="1241.9" cy="480.9" r="7.2"/><circle cx="1090.1" cy="440.0" r="7.2"/><circle cx="1083.5" cy="443.3" r="7.2"/><circle cx="1071.8" cy="433.3" r="7.2"/><circle cx="1066.0" cy="438.3" r="7.2"/><circle cx="1061.8" cy="443.3" r="7.2"/><circle cx="1057.6" cy="450.0" r="7.2"/><circle cx="1076.8" cy="448.3" r="7.2"/><circle cx="1041.0" cy="430.0" r="7.2"/><circle cx="1115.1" cy="445.8" r="7.2"/><circle cx="1073.5" cy="460.7" r="7.2"/><circle cx="1066.0" cy="464.8" r="7.2"/><circle cx="1057.6" cy="467.3" r="7.2"/><circle cx="1076.0" cy="479.8" r="7.2"/><circle cx="1073.5" cy="485.7" r="7.2"/><circle cx="1061.8" cy="495.7" r="7.2"/><circle cx="1057.6" cy="497.3" r="7.2"/><circle cx="1045.1" cy="471.5" r="7.2"/><circle cx="1041.0" cy="464.8" r="7.2"/><circle cx="1086.8" cy="514.8" r="7.2"/><circle cx="1090.1" cy="519.0" r="7.2"/><circle cx="1100.8" cy="458.0" r="7.2"/><circle cx="1088.3" cy="439.2" r="7.2"/><circle cx="1071.6" cy="447.5" r="7.2"/><circle cx="1042.5" cy="449.6" r="7.2"/><circle cx="1075.8" cy="472.5" r="7.2"/><circle cx="1067.5" cy="478.8" r="7.2"/><circle cx="1044.5" cy="464.2" r="7.2"/><circle cx="1055.0" cy="495.4" r="7.2"/><circle cx="1084.1" cy="514.2" r="7.2"/><circle cx="1101.0" cy="417.0" r="7.2"/><circle cx="1046.8" cy="428.7" r="7.2"/><circle cx="1041.0" cy="426.2" r="7.2"/><circle cx="1078.5" cy="470.3" r="7.2"/><circle cx="1071.8" cy="477.0" r="7.2"/><circle cx="1065.1" cy="468.7" r="7.2"/><circle cx="1059.3" cy="475.3" r="7.2"/><circle cx="1073.5" cy="485.3" r="7.2"/><circle cx="1061.8" cy="487.0" r="7.2"/></g>
</svg>
</body></html>
